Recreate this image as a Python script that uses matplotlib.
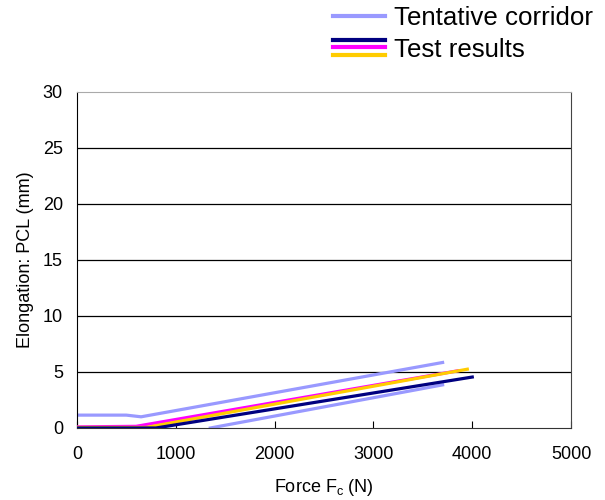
import matplotlib
matplotlib.use("Agg")
import matplotlib.pyplot as plt
from matplotlib.lines import Line2D
from matplotlib.legend_handler import HandlerBase

plt.rcParams['font.family'] = ['Liberation Sans', 'DejaVu Sans']

# corridor bounds
upper_x = [0, 500, 650, 3700]
upper_y = [1.15, 1.15, 1.0, 5.85]
lower_x = [1350, 3700]
lower_y = [0.0, 3.85]

# test results
navy_x = [0, 800, 4000]
navy_y = [0.0, 0.0, 4.55]
magenta_x = [0, 600, 3850]
magenta_y = [0.1, 0.15, 5.1]
yellow_x = [0, 700, 3950]
yellow_y = [0.05, 0.05, 5.25]

corridor_color = '#9999ff'
test_colors = ['#000080', '#ff00ff', '#ffcc00']


class StackedHandler(HandlerBase):
    # three short lines stacked on top of each other
    def create_artists(self, legend, orig_handle, xdescent, ydescent,
                       width, height, fontsize, trans):
        arts = []
        mid = height / 2 - ydescent
        off = 0.40 * height
        for i, h in enumerate(orig_handle):
            y = mid + off * (1 - i)
            ln = Line2D([0, width], [y, y], color=h.get_color(), lw=3)
            ln.set_transform(trans)
            arts.append(ln)
        return arts


fig = plt.figure(figsize=(6.05, 5.0), dpi=100)
ax = fig.add_axes([0.127, 0.144, 0.817, 0.672])

for yy in [5, 10, 15, 20, 25]:
    ax.axhline(yy, color='black', lw=0.9, zorder=1)

ax.plot(upper_x, upper_y, color=corridor_color, lw=2.3, zorder=2)
ax.plot(lower_x, lower_y, color=corridor_color, lw=2.3, zorder=2)
l_mag, = ax.plot(magenta_x, magenta_y, color=test_colors[1], lw=2.3, zorder=3)
l_yel, = ax.plot(yellow_x, yellow_y, color=test_colors[2], lw=2.3, zorder=4)
l_navy, = ax.plot(navy_x, navy_y, color=test_colors[0], lw=2.3, zorder=5)

ax.set_xlim(0, 5000)
ax.set_ylim(0, 30)
ax.set_xticks([0, 1000, 2000, 3000, 4000, 5000])
ax.set_yticks([0, 5, 10, 15, 20, 25, 30])
ax.tick_params(axis='x', direction='in', length=5, labelsize=13, pad=13)
ax.tick_params(axis='y', length=0, labelsize=13, pad=10)
ax.spines['top'].set_color('#aaaaaa')
ax.spines['right'].set_color('#444444')
ax.spines['bottom'].set_color('#333333')
ax.spines['left'].set_color('black')

ax.set_xlabel('Force F$_\\mathregular{c}$ (N)', fontsize=13, labelpad=10)
ax.set_ylabel('Elongation: PCL (mm)', fontsize=13, labelpad=6)

corr_handle = Line2D([], [], color=corridor_color, lw=3)
fig.legend([corr_handle, (l_navy, l_mag, l_yel)],
           ['Tentative corridor', 'Test results'],
           handler_map={tuple: StackedHandler()},
           loc='upper right', bbox_to_anchor=(1.018, 1.035),
           frameon=False, fontsize=18.6, handlelength=2.0,
           handletextpad=0.35, labelspacing=0.3)

fig.savefig('out.png', dpi=100)
